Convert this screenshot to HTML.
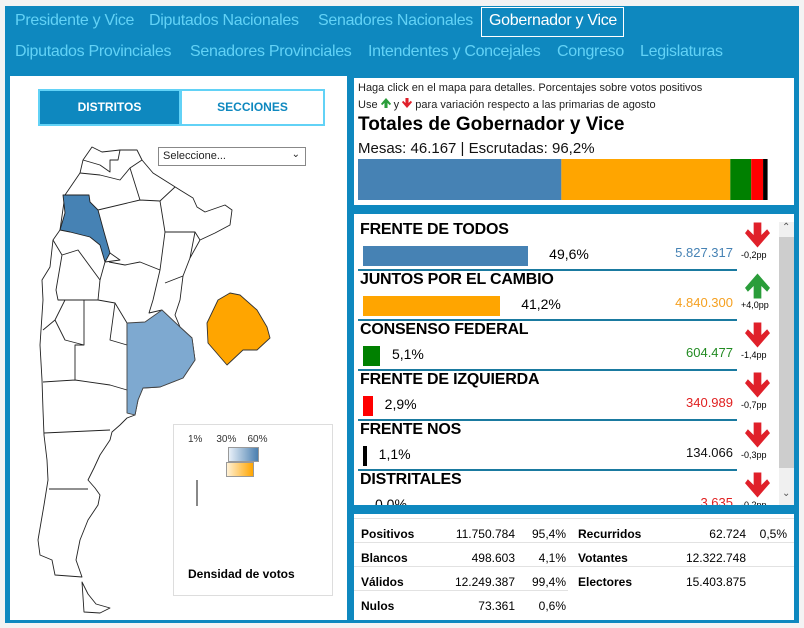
<!DOCTYPE html>
<html><head><meta charset="utf-8">
<style>
*{margin:0;padding:0;box-sizing:border-box}
body{width:804px;height:628px;background:#f3f3f3;font-family:"Liberation Sans",sans-serif;position:relative;overflow:hidden}
.abs{position:absolute}
#frame{left:5px;top:6px;width:794px;height:617px;background:#0e88bf}
.tab{position:absolute;color:#62d2f6;font-size:16px;white-space:nowrap;letter-spacing:-0.3px}
.panel{position:absolute;background:#fff}
.b{font-weight:bold}
.tx{position:absolute;white-space:nowrap}
</style></head><body>
<div id="frame" class="abs"></div>
<div class="tab" style="left:15px;top:12px">Presidente y Vice</div>
<div class="tab" style="left:149px;top:12px">Diputados Nacionales</div>
<div class="tab" style="left:318px;top:12px">Senadores Nacionales</div>
<div class="tab" style="left:481px;top:7px;width:143px;height:30px;border:1px solid #fff;color:#fff;padding:4px 0 0 7px">Gobernador y Vice</div>
<div class="tab" style="left:15px;top:43px">Diputados Provinciales</div>
<div class="tab" style="left:190px;top:43px">Senadores Provinciales</div>
<div class="tab" style="left:368px;top:43px">Intendentes y Concejales</div>
<div class="tab" style="left:557px;top:43px">Congreso</div>
<div class="tab" style="left:640px;top:43px">Legislaturas</div>

<div class="panel" style="left:10px;top:76px;width:337px;height:544px"></div>
<div class="abs" style="left:38px;top:89px;width:143px;height:37px;background:#0e88bf;border:2px solid #62d2f6;color:#fff;font-size:12px;font-weight:bold;text-align:center;line-height:33px">DISTRITOS</div>
<div class="abs" style="left:180px;top:89px;width:145px;height:37px;background:#fff;border:2px solid #62d2f6;color:#0e88bf;font-size:12px;font-weight:bold;text-align:center;line-height:33px">SECCIONES</div>
<div class="abs" style="left:158px;top:147px;width:148px;height:19px;border:1px solid #888;background:#fff;font-size:11px;padding:2px 4px;color:#222">Seleccione...<span style="position:absolute;right:5px;top:1px;font-size:10px">&#8964;</span></div>

<svg class="abs" style="left:0;top:0" width="350" height="628">
<g fill="#fff" stroke="#222" stroke-width="0.9" stroke-linejoin="round">
<path d="M92,147 L102,152 L120,150 L137,150 L142,160 L153,173 L180,190 L193,198 L197,207 L205,212 L225,205 L232,210 L230,225 L215,233 L200,240 L190,258 L183,276 L180,300 L175,315 L180,327 L192,338 L195,360 L183,378 L160,387 L143,388 L138,400 L135,415 L127,418 L120,425 L112,432 L110,440 L100,455 L94,468 L88,480 L95,488 L100,495 L98,505 L88,520 L80,540 L76,560 L82,577 L55,575 L52,560 L40,555 L38,540 L44,505 L48,480 L47,460 L44,435 L43,410 L42,380 L40,345 L43,300 L42,280 L50,267 L53,240 L60,230 L65,195 L80,173 L83,160 Z"/>
<path d="M82,582 L84,612 L100,613 L110,608 L96,604 L88,594 Z"/>
<path fill="none" d="M83,160 L100,165 L110,172 L110,160 L118,160 L120,150 M80,173 L100,175 L120,180 L130,168 L142,160 M130,168 L140,200 L98,210 M140,200 L160,201 L165,232 L195,232 L200,240 M160,201 L175,187 M165,232 L160,270 L153,300 L149,313 L162,310 M195,232 L190,258 M183,276 L165,283 M160,270 L140,262 L125,265 L109,262 M110,253 L120,260 L105,262 L100,280 L98,300 L115,303 L110,340 L127,345 L127,323 L115,303 M98,300 L84,300 L84,345 L75,345 L75,380 L110,385 L127,390 M84,345 L65,340 L55,320 M53,240 L62,255 L78,250 L100,280 M62,255 L56,290 L58,300 L84,300 M43,330 L55,320 L65,300 L58,300 M43,382 L75,380 M44,433 L110,430 M49,489 L88,489"/>
<path fill="#4682b4" d="M63,195 L89,195 L90,202 L98,210 L104,232 L110,253 L105,262 L100,245 L90,237 L70,232 L60,230 L65,213 Z"/>
<path fill="#7ea9d0" stroke="#444" d="M127,323 L145,322 L162,310 L180,327 L192,338 L195,360 L183,378 L160,387 L143,388 L138,400 L135,415 L127,413 Z"/>
<path fill="#ffa500" stroke="#333" d="M207,323 L218,300 L230,293 L240,295 L257,310 L267,327 L270,338 L257,350 L243,350 L227,365 L208,343 Z"/>
</g>
</svg>

<div class="abs" style="left:173px;top:424px;width:160px;height:172px;border:1px solid #ddd"></div>
<div class="tx" style="left:188px;top:434px;font-size:10px;color:#333">1%&nbsp;&nbsp;&nbsp;&nbsp;&nbsp;30%&nbsp;&nbsp;&nbsp;&nbsp;60%</div>
<div class="abs" style="left:228px;top:447px;width:31px;height:15px;background:linear-gradient(90deg,#e8f0f8,#4a7fb0);border:1px solid #999"></div>
<div class="abs" style="left:226px;top:462px;width:28px;height:15px;background:linear-gradient(90deg,#fff1d6,#ffa500);border:1px solid #999"></div>
<div class="abs" style="left:196px;top:480px;width:2px;height:26px;background:#888"></div>
<div class="tx b" style="left:188px;top:567px;font-size:12px">Densidad de votos</div>

<div class="panel" style="left:354px;top:78px;width:440px;height:127px"></div>
<div class="tx" style="left:358px;top:82px;font-size:11px;color:#222">Haga click en el mapa para detalles. Porcentajes sobre votos positivos</div>
<div class="tx" style="left:358px;top:97px;font-size:11px;color:#222">Use <svg width="10" height="12" viewBox="0 0 26 26" style="vertical-align:-1px"><polygon fill="#2a9d3a" points="9,26 17,26 17,13 23,19 26,15 13,0 0,15 3,19 9,13"/></svg> y <svg width="10" height="12" viewBox="0 0 26 26" style="vertical-align:-1px"><polygon fill="#e0202a" points="9,0 17,0 17,13 23,7 26,11 13,26 0,11 3,7 9,13"/></svg> para variación respecto a las primarias de agosto</div>
<div class="tx b" style="left:358px;top:114px;font-size:19px">Totales de Gobernador y Vice</div>
<div class="tx" style="left:358px;top:140px;font-size:15px;color:#111">Mesas: 46.167 | Escrutadas: 96,2%</div>
<svg class="abs" id="stack" style="left:0;top:0" width="804" height="628"></svg>

<div class="panel" style="left:354px;top:214px;width:440px;height:291px;overflow:hidden" id="list"></div>
<div class="abs" style="left:779px;top:222px;width:15px;height:283px;background:#f0f0f0"></div>
<div class="abs" style="left:779px;top:237px;width:15px;height:231px;background:#cdcdcd"></div>
<div class="tx" style="left:782px;top:222px;font-size:10px;color:#555">&#8963;</div>
<div class="tx" style="left:782px;top:488px;font-size:10px;color:#555">&#8964;</div>

<div class="panel" style="left:354px;top:514px;width:440px;height:106px" id="stats"></div>

<script>
const parties=["FRENTE DE TODOS","JUNTOS POR EL CAMBIO","CONSENSO FEDERAL","FRENTE DE IZQUIERDA","FRENTE NOS","DISTRITALES"];
const pcts=[49.6,41.2,5.1,2.9,1.1,0.0];
const pctLabels=["49,6%","41,2%","5,1%","2,9%","1,1%","0,0%"];
const votes=["5.827.317","4.840.300","604.477","340.989","134.066","3.635"];
const changes=["-0,2pp","+4,0pp","-1,4pp","-0,7pp","-0,3pp","-0,2pp"];
const colors=["#4682b4","#ffa500","#008000","#ff0000","#000000","#999999"];
const voteColors=["#4682b4","#f5a020","#228b22","#e02020","#111111","#e02020"];
const stackVals=[49.6,41.2,5.1,2.9,1.1];
const NS="http://www.w3.org/2000/svg";
const sv=document.getElementById('stack');
const x0=358,bw=410,tot=100;
let acc=0;
stackVals.forEach((v,i)=>{
  const r=document.createElementNS(NS,'rect');
  
  
  r.setAttribute('x',x0+acc/tot*bw);r.setAttribute('y',159);
  r.setAttribute('width',v/tot*bw);r.setAttribute('height',41);
  r.setAttribute('fill',colors[i]);sv.appendChild(r);acc+=v;
});
const L=document.getElementById('list');
const sx=3.33;
const downPts="9,0 17,0 17,13 23,7 26,11 13,26 0,11 3,7 9,13";
const upPts="9,26 17,26 17,13 23,19 26,15 13,0 0,15 3,19 9,13";
parties.forEach((p,i)=>{
  const top=i*50;
  const row=document.createElement('div');
  
  
  row.style.cssText=`position:absolute;left:0;top:${top}px;width:440px;height:50px`;
  const w=Math.max(pcts[i]*sx,0);
  const up=changes[i][0]=='+';
  row.innerHTML=`<div style="position:absolute;left:6px;top:7px;font-size:16px;font-weight:bold;white-space:nowrap;letter-spacing:-0.2px">${p}</div>
  <div style="position:absolute;left:9px;top:32px;width:${w}px;height:20px;background:${colors[i]}"></div>
  <div style="position:absolute;left:${9+w+(i<2?21:12)}px;top:32px;font-size:14px">${pctLabels[i]}</div>
  <div style="position:absolute;right:61px;top:31px;font-size:13px;color:${voteColors[i]}">${votes[i]}</div>
  <svg style="position:absolute;left:391px;top:${i==1?9:8}px" width="25" height="26" viewBox="0 0 26 26"><polygon fill="${up?'#2a9d3a':'#e0202a'}" points="${up?upPts:downPts}"/></svg>
  <div style="position:absolute;left:387px;top:36px;font-size:9px">${changes[i]}</div>
  ${i<5?'<div style="position:absolute;left:4px;top:55px;width:379px;height:2px;background:#1a7aa0"></div>':''}`;
  L.appendChild(row);
});
const statL=["Positivos","Blancos","Válidos","Nulos"];
const statV=["11.750.784","498.603","12.249.387","73.361"];
const statP=["95,4%","4,1%","99,4%","0,6%"];
const stat2L=["Recurridos","Votantes","Electores"];
const stat2V=["62.724","12.322.748","15.403.875"];
const stat2P=["0,5%","",""];
const S=document.getElementById('stats');
let h='';
statL.forEach((l,i)=>{const t=8+i*24;
  h+=`<div style="position:absolute;left:0;top:${t-4}px;width:${i<3?440:214}px;height:1px;background:#e2e2e2"></div>
  <div style="position:absolute;left:7px;top:${t+5}px;font-size:12px;font-weight:bold">${l}</div>
  <div style="position:absolute;right:279px;top:${t+5}px;font-size:12px">${statV[i]}</div>
  <div style="position:absolute;right:228px;top:${t+5}px;font-size:12px">${statP[i]}</div>`;});
stat2L.forEach((l,i)=>{const t=8+i*24;
  h+=`<div style="position:absolute;left:224px;top:${t+5}px;font-size:12px;font-weight:bold">${l}</div>
  <div style="position:absolute;right:48px;top:${t+5}px;font-size:12px">${stat2V[i]}</div>
  <div style="position:absolute;right:7px;top:${t+5}px;font-size:12px">${stat2P[i]}</div>`;});
S.innerHTML=h;
</script>
</body></html>
